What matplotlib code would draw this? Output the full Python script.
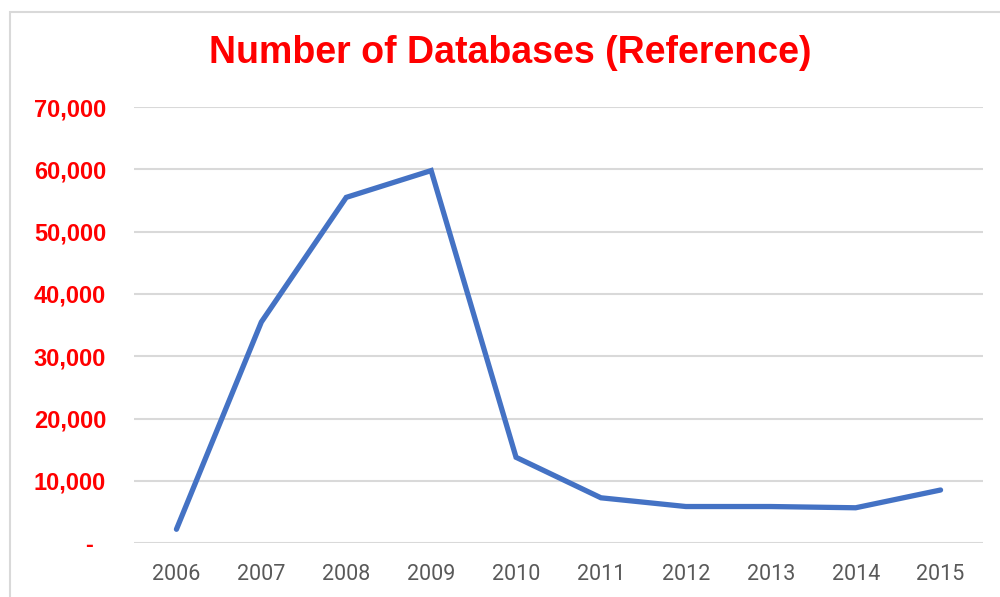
import matplotlib
matplotlib.use("Agg")
import matplotlib.pyplot as plt
from matplotlib.patches import Rectangle
from matplotlib.transforms import ScaledTranslation

years = ["2006", "2007", "2008", "2009", "2010", "2011", "2012", "2013", "2014", "2015"]
databases = [2250, 35500, 55500, 59800, 13800, 7300, 5900, 5900, 5700, 8550]
y_ticks = [0, 10000, 20000, 30000, 40000, 50000, 60000, 70000]
y_tick_labels = ["-", "10,000", "20,000", "30,000", "40,000", "50,000", "60,000", "70,000"]
title = "Number of Databases (Reference)"

fig = plt.figure(figsize=(10, 5.97), dpi=100)
fig.patch.set_facecolor("white")

# chart frame (cropped at right and bottom)
fig.add_artist(Rectangle((10/1000, -0.05), 1.05, 1 - 12/597 + 0.05,
                         transform=fig.transFigure, fill=False,
                         edgecolor="#d9d9d9", linewidth=1.5))

ax = fig.add_axes([0.134, 1 - 543.3/597, 0.983 - 0.134, (543.3 - 107)/597])
x = list(range(len(years)))
ax.plot(x, databases, color="#4472C4", linewidth=3.8, solid_capstyle="round",
        solid_joinstyle="miter", zorder=3)

ax.set_xlim(-0.5, len(years) - 0.5)
ax.set_ylim(0, 70000)
ax.set_xticks(x)
ax.set_xticklabels(years, fontfamily="Roboto", fontsize=15.5, color="#595959")
ax.set_yticks(y_ticks)
ax.set_yticklabels(y_tick_labels, fontfamily="Liberation Sans", fontweight="bold",
                   fontsize=17, color="#ff0000")
ax.tick_params(axis="both", length=0)
ax.tick_params(axis="y", pad=20)
ax.tick_params(axis="x", pad=15)
ax.yaxis.grid(True, color="#d9d9d9", linewidth=1.5)
ax.set_axisbelow(True)
for s in ax.spines.values():
    s.set_visible(False)

# shift the "-" label like Excel accounting format
lbl0 = ax.get_yticklabels()[0]
lbl0.set_transform(lbl0.get_transform() + ScaledTranslation(-13/100, 0, fig.dpi_scale_trans))

fig.text(0.510, 1 - 53/597, title, ha="center", va="center",
         fontfamily="Liberation Sans", fontweight="bold", fontsize=27, color="#ff0000")

fig.savefig("out.png", dpi=100, facecolor="white")
